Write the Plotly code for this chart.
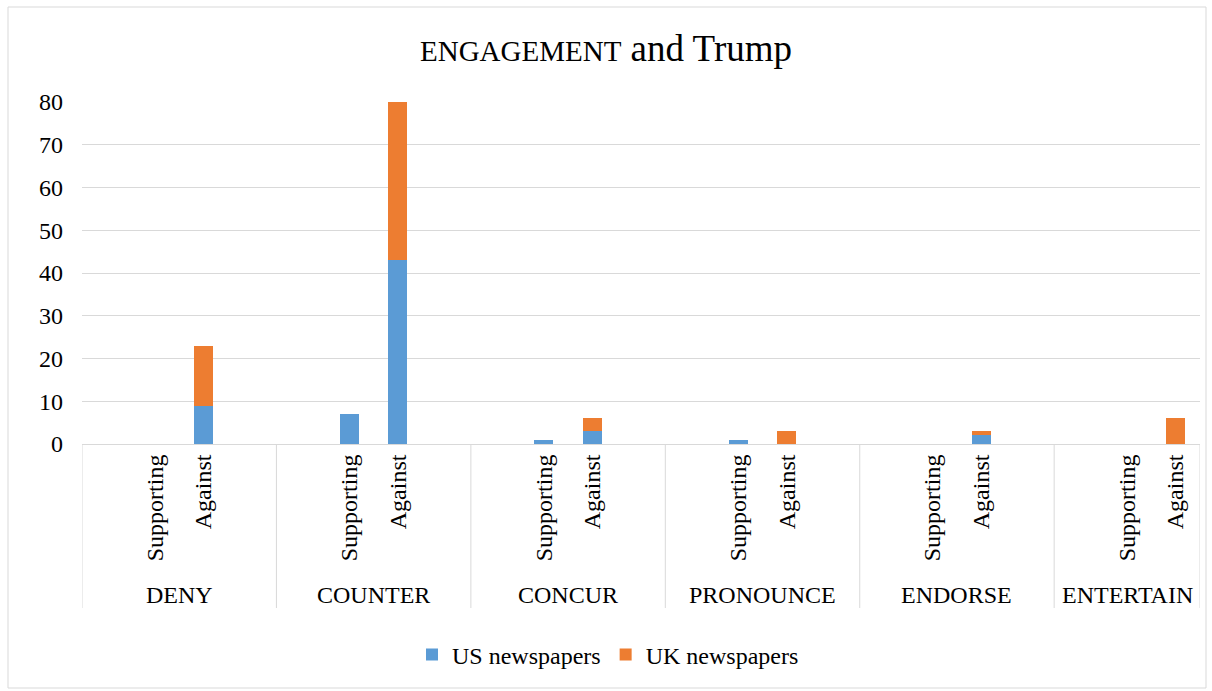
import plotly.graph_objects as go

categories = ["DENY", "COUNTER", "CONCUR", "PRONOUNCE", "ENDORSE", "ENTERTAIN"]
stances = ["Supporting", "Against"]
us_values = [0, 9, 7, 43, 1, 3, 1, 0, 0, 2, 0, 0]
uk_values = [0, 14, 0, 37, 0, 3, 0, 3, 0, 1, 0, 6]

FONT = "Liberation Serif"
GRID = "#d9d9d9"

# Excel-like slot layout: each group has a blank slot before and after its two bars,
# the final blank slot of the last group is not shown (23 slots in total).
SLOTS_PER_GROUP = 4
n_groups = len(categories)
x_range = [-0.5, SLOTS_PER_GROUP * n_groups - 1 - 0.5]

xpos = []
tick_text = []
for g, cat in enumerate(categories):
    for s, st in enumerate(stances):
        xpos.append(SLOTS_PER_GROUP * g + 1 + s)
        tick_text.append(st)

fig = go.Figure()
fig.add_trace(go.Bar(x=xpos, y=us_values, name="US newspapers", marker_color="#5b9bd5",
                     marker_line_width=0, width=0.39))
fig.add_trace(go.Bar(x=xpos, y=uk_values, name="UK newspapers", marker_color="#ed7d31",
                     marker_line_width=0, width=0.39))

PLOT_TOP, PLOT_BOTTOM, PLOT_LEFT, PLOT_RIGHT = 102, 444, 82, 1200
PH = PLOT_BOTTOM - PLOT_TOP
PW = PLOT_RIGHT - PLOT_LEFT

def py(pix):
    return (PLOT_BOTTOM - pix) / PH

def px(pix):
    return (pix - PLOT_LEFT) / PW

fig.update_layout(
    barmode="stack",
    width=1212, height=691,
    paper_bgcolor="white", plot_bgcolor="white",
    margin=dict(l=PLOT_LEFT, r=1212 - PLOT_RIGHT, t=PLOT_TOP, b=691 - PLOT_BOTTOM),
    font=dict(family=FONT, size=24, color="#000000"),
    title=dict(text="<span style='font-size:29px'>ENGAGEMENT</span> and Trump",
               x=0.5, xanchor="center", y=1 - 48 / 691, yanchor="middle",
               font=dict(family=FONT, size=37, color="#000000")),
    legend=dict(orientation="h", x=px(608), xanchor="center", y=py(655), yanchor="middle",
                font=dict(family=FONT, size=24, color="#000000"), traceorder="normal",
                itemwidth=30),
    showlegend=True,
)
fig.update_yaxes(range=[0, 80], dtick=10, showgrid=True, gridcolor=GRID, gridwidth=1,
                 zeroline=False, showline=False, ticks="",
                 tickfont=dict(family=FONT, size=24, color="#000000"),
                 ticklabelstandoff=18)
fig.update_xaxes(range=x_range, showgrid=False, zeroline=False, showline=True,
                 linecolor=GRID, linewidth=1, tickmode="array", tickvals=xpos,
                 ticktext=tick_text, tickangle=-90, ticks="",
                 tickfont=dict(family=FONT, size=24, color="#000000"))

# category dividers and outer category labels
bounds = [SLOTS_PER_GROUP * g - 0.5 for g in range(n_groups)] + [x_range[1]]
for b in bounds:
    fig.add_shape(type="line", xref="x", yref="paper", x0=b, x1=b, y0=0, y1=py(608),
                  line=dict(color=GRID, width=1))
for g, cat in enumerate(categories):
    fig.add_annotation(text=cat, xref="x", yref="paper", x=(bounds[g] + bounds[g + 1]) / 2,
                       y=py(595), xanchor="center", yanchor="middle", showarrow=False,
                       font=dict(family=FONT, size=24, color="#000000"))

# outer chart border
fig.add_shape(type="rect", xref="paper", yref="paper", x0=px(8), x1=px(1206), y0=py(688),
              y1=py(7), line=dict(color=GRID, width=1), fillcolor="rgba(0,0,0,0)", layer="below")

fig.write_html("out.html")
